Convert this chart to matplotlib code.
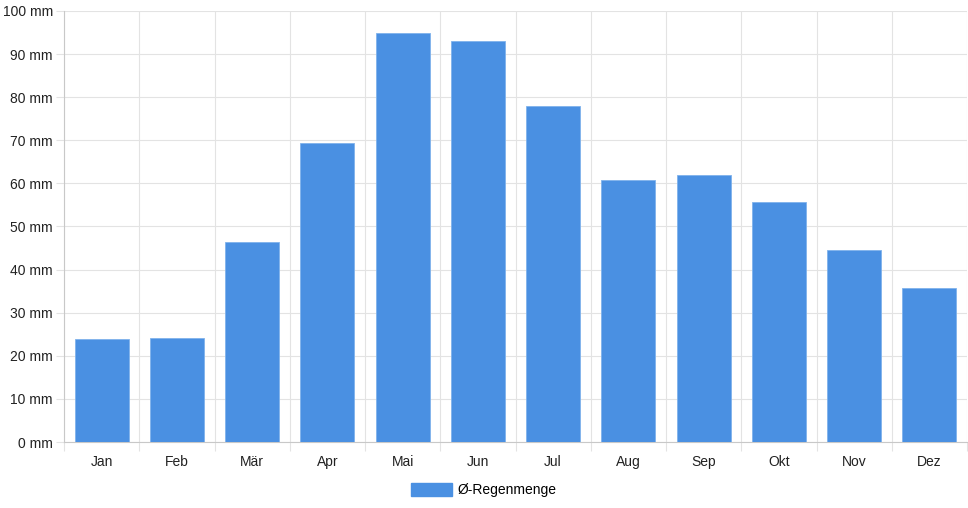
import numpy as np
import matplotlib
matplotlib.use("Agg")
import matplotlib.pyplot as plt
from matplotlib.patches import Patch

months = ["Jan", "Feb", "Mär", "Apr", "Mai", "Jun", "Jul", "Aug", "Sep", "Okt", "Nov", "Dez"]
rain_mm = [24.0, 24.2, 46.4, 69.4, 94.9, 93.0, 78.0, 60.7, 62.0, 55.6, 44.5, 35.7]
y_ticks = list(range(0, 101, 10))
series_label = "Ø-Regenmenge"

BLUE = "#4a90e2"
GRID = "#e3e3e3"

plt.rcParams["font.family"] = ["Liberation Sans", "DejaVu Sans"]

fig = plt.figure(figsize=(9.68, 5.08), dpi=100)
ax = fig.add_axes([64 / 968, 1 - 442 / 508, 903 / 968, 431 / 508])

x = np.arange(len(months))
ax.bar(x, rain_mm, width=0.72, color=BLUE, edgecolor="#7fb2ec", linewidth=0.6, zorder=3)

ax.set_xlim(-0.5, len(months) - 0.5)
ax.set_ylim(0, 100)
ax.set_yticks(y_ticks)
ax.set_yticklabels([f"{v} mm" for v in y_ticks])
ax.set_xticks(x)
ax.set_xticklabels(months)
ax.set_xticks(np.arange(-0.5, len(months), 1), minor=True)

ax.grid(axis="y", which="major", color=GRID, lw=0.8, zorder=0)
ax.grid(axis="x", which="minor", color=GRID, lw=0.8, zorder=0)
ax.tick_params(axis="x", which="major", length=0, pad=17.3, labelsize=10, colors="#222222")
ax.tick_params(axis="x", which="minor", length=6.5, color=GRID, width=0.8)
ax.tick_params(axis="y", length=6, color=GRID, width=0.8, pad=2, labelsize=10, colors="#222222")
for lab in ax.get_xticklabels():
    lab.set_verticalalignment("baseline")

for s in ["top", "right"]:
    ax.spines[s].set_visible(False)
ax.spines["left"].set_color("#c8c8c8")
ax.spines["bottom"].set_color("#c8c8c8")
ax.spines["left"].set_linewidth(0.8)
ax.spines["bottom"].set_linewidth(0.8)

fig.legend(handles=[Patch(facecolor=BLUE, edgecolor=BLUE, label=series_label)],
           loc="center", bbox_to_anchor=(484 / 968, 1 - 490 / 508), frameon=False,
           fontsize=10, handlelength=2.9, handleheight=1.1, handletextpad=0.45)

fig.savefig("out.png", dpi=100)
